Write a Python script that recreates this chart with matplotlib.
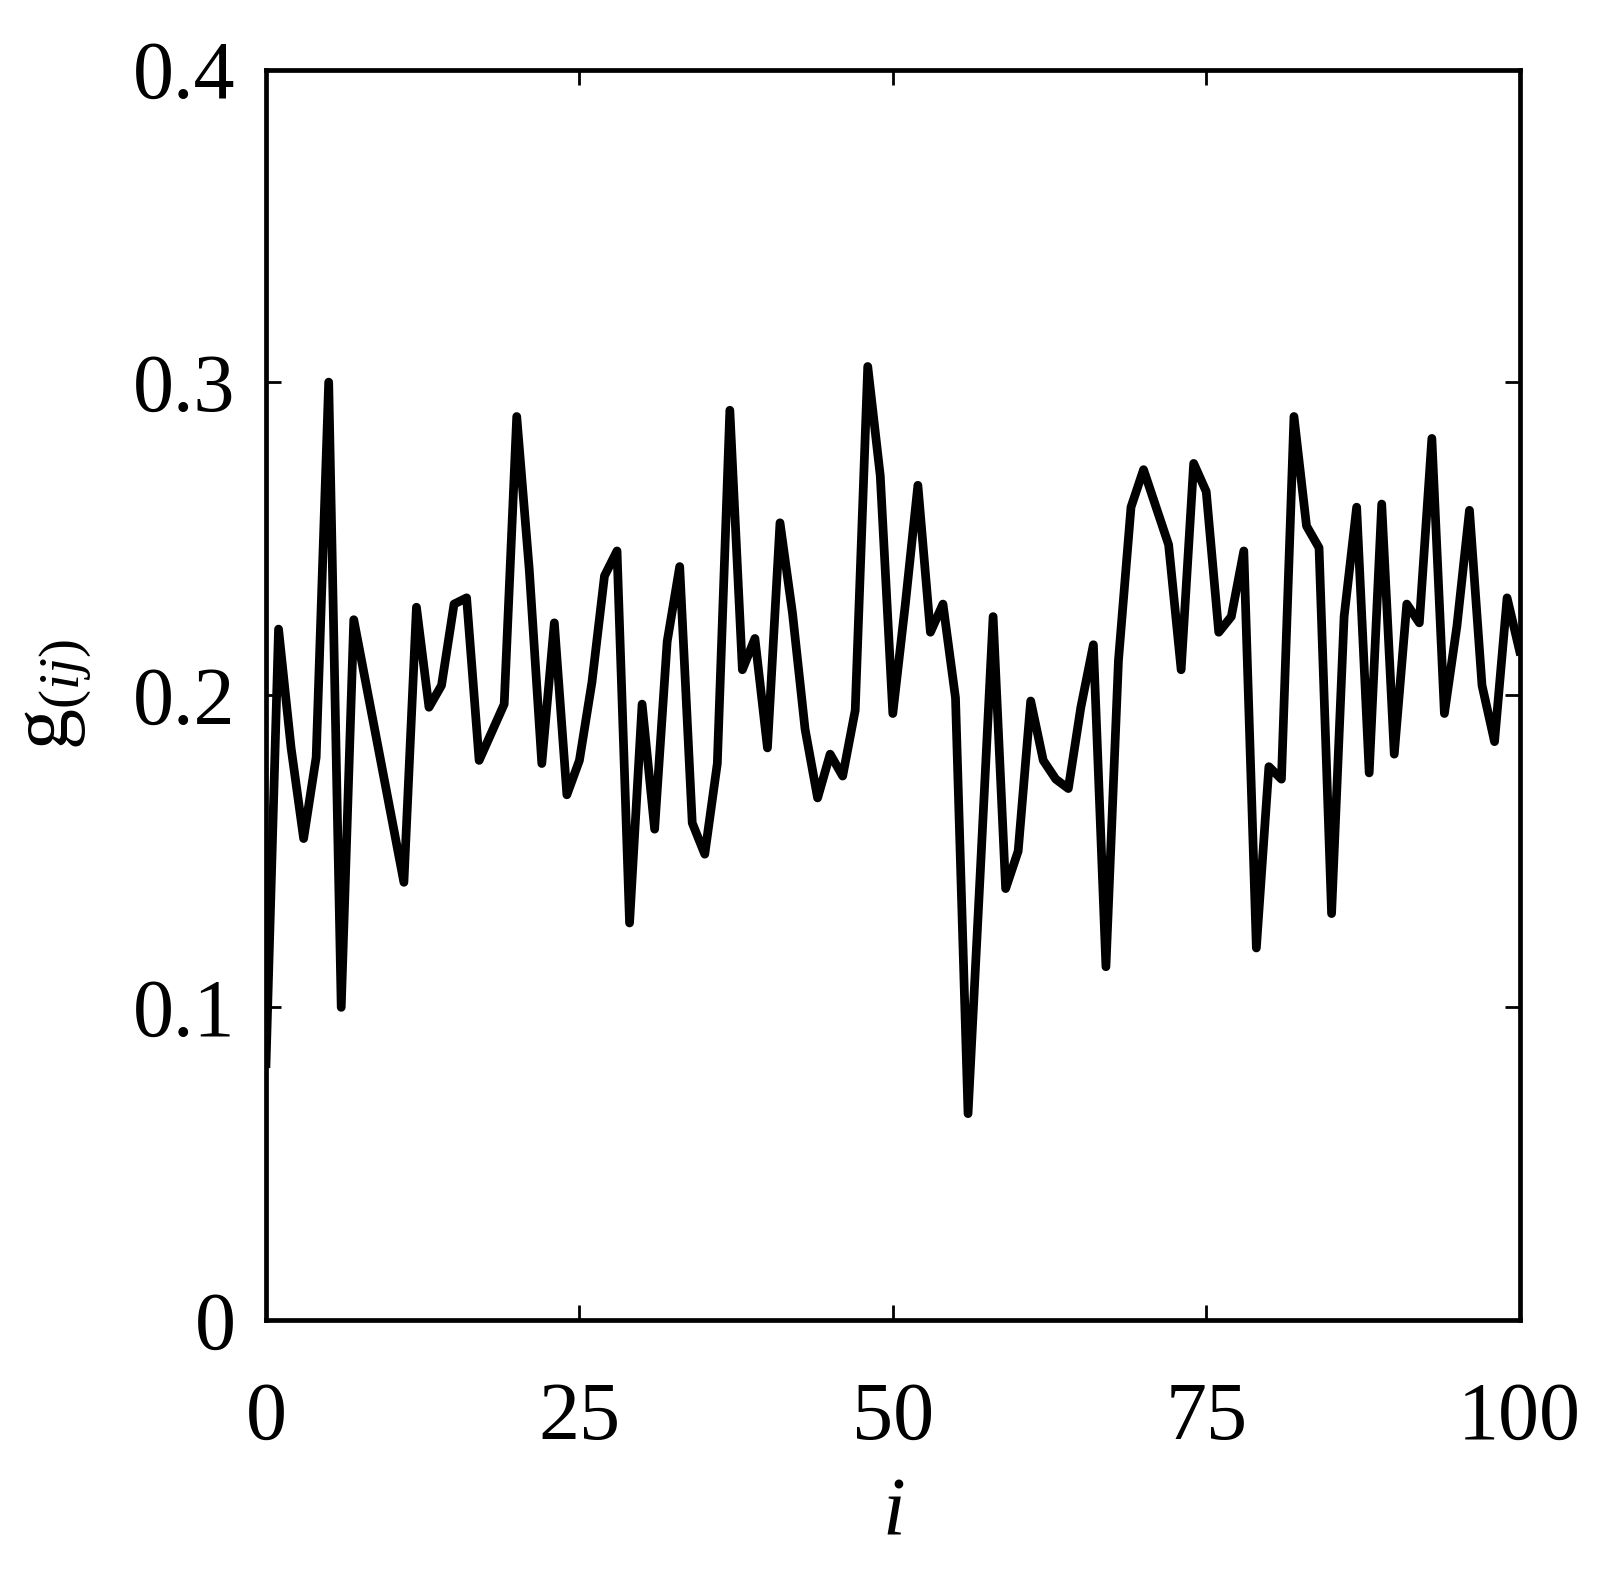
import numpy as np
import matplotlib
matplotlib.use("Agg")
import matplotlib.pyplot as plt

# g_(ij), one value per i = 0..100
g_vals = [
    0.082, 0.221, 0.183, 0.154, 0.180, 0.300, 0.100, 0.224, 0.203, 0.182,
    0.161, 0.140, 0.228, 0.196, 0.203, 0.229, 0.231, 0.179, 0.188, 0.197,
    0.289, 0.240, 0.178, 0.223, 0.168, 0.179, 0.204, 0.238, 0.246, 0.127,
    0.197, 0.157, 0.217, 0.241, 0.159, 0.149, 0.178, 0.291, 0.208, 0.218,
    0.183, 0.255, 0.226, 0.189, 0.167, 0.181, 0.174, 0.195, 0.305, 0.270,
    0.194, 0.229, 0.267, 0.220, 0.229, 0.199, 0.066, 0.145, 0.225, 0.138,
    0.150, 0.198, 0.179, 0.173, 0.170, 0.196, 0.216, 0.113, 0.211, 0.260,
    0.272, 0.260, 0.248, 0.208, 0.274, 0.265, 0.220, 0.225, 0.246, 0.119,
    0.177, 0.173, 0.289, 0.254, 0.247, 0.130, 0.225, 0.260, 0.175, 0.261,
    0.181, 0.229, 0.223, 0.282, 0.194, 0.222, 0.259, 0.203, 0.185, 0.231,
    0.214,
]
i_vals = np.arange(len(g_vals))

x_ticks = [0, 25, 50, 75, 100]
y_ticks = [0, 0.1, 0.2, 0.3, 0.4]
y_tick_labels = ["0", "0.1", "0.2", "0.3", "0.4"]

plt.rcParams["font.family"] = ["Liberation Serif", "DejaVu Serif"]
plt.rcParams["mathtext.fontset"] = "custom"
plt.rcParams["mathtext.rm"] = "Liberation Serif"
plt.rcParams["mathtext.it"] = "Liberation Serif:italic"

fig = plt.figure(figsize=(16.23, 15.69), dpi=100)
ax = fig.add_axes([0.1639, 0.1587, 0.7724, 0.797])

ax.plot(i_vals, g_vals, color="black", linewidth=6.3)

ax.set_xlim(0, 100)
ax.set_ylim(0, 0.4)
ax.set_xticks(x_ticks)
ax.set_yticks(y_ticks)
ax.set_yticklabels(y_tick_labels)

ax.tick_params(direction="in", length=11, width=2.0, top=True, right=True,
               labelsize=59)
ax.tick_params(axis="x", pad=44)
ax.tick_params(axis="y", pad=22)
for s in ax.spines.values():
    s.set_linewidth(3.4)

ax.set_xlabel("$i$", fontsize=59, labelpad=14)
ax.set_ylabel(r"$\mathrm{g}_{(ij)}$", fontsize=59, labelpad=28)

fig.savefig("out.png", dpi=100)
